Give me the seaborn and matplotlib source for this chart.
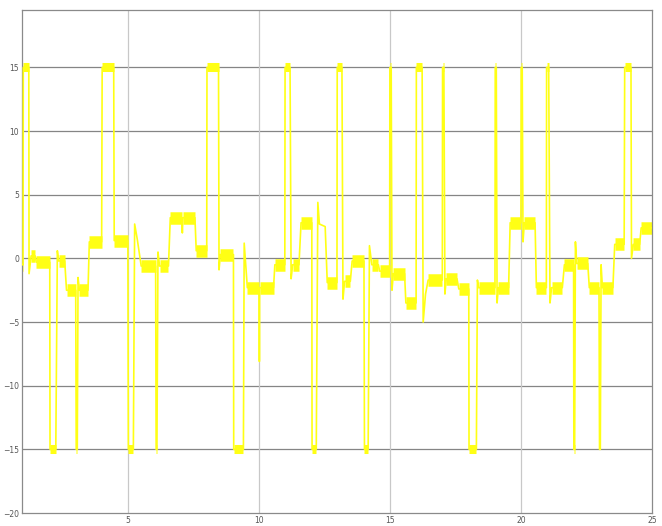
import numpy as np
import pandas as pd
import matplotlib
matplotlib.use("Agg")
import matplotlib.pyplot as plt
import seaborn as sns

# trace vertices (time, value)
t = [0.95, 0.99, 1.00, 1.21, 1.22, 1.30, 1.45, 1.50, 2.01,
     2.02, 2.24, 2.30, 2.35, 2.58, 2.65, 3.00,
     3.02, 3.06, 3.09, 3.14, 3.47, 3.52, 3.99,
     4.01, 4.45, 4.47, 4.99,
     5.01, 5.20, 5.25, 5.35, 5.50, 6.05,
     6.07, 6.10, 6.14, 6.20, 6.54, 6.61, 7.05, 7.07, 7.09, 7.55, 7.60, 8.00,
     8.01, 8.45, 8.47, 8.52, 9.02,
     9.03, 9.40, 9.43, 9.55, 10.00, 10.01, 10.02, 10.55, 10.60, 10.98,
     10.99, 11.18, 11.22, 11.28, 11.52, 11.60, 12.01,
     12.02, 12.18, 12.24, 12.30, 12.52, 12.60, 12.97,
     12.98, 13.16, 13.20, 13.26, 13.48, 13.55, 14.00,
     14.02, 14.16, 14.21, 14.30, 14.55, 14.60, 14.98,
     14.99, 15.04, 15.07, 15.12, 15.55, 15.60, 15.99,
     16.00, 16.22, 16.26, 16.35, 16.45, 16.99,
     17.00, 17.05, 17.09, 17.14, 17.55, 17.62, 18.00,
     18.01, 18.29, 18.33, 18.38, 19.00,
     19.01, 19.05, 19.08, 19.13, 19.52, 19.58, 19.99,
     20.00, 20.04, 20.07, 20.12, 20.53, 20.58, 20.96,
     20.97, 21.05, 21.10, 21.16, 21.57, 21.65, 22.00,
     22.01, 22.04, 22.07, 22.12, 22.54, 22.60, 22.97,
     22.99, 23.02, 23.05, 23.10, 23.50, 23.57, 23.93,
     23.95, 24.19, 24.21, 24.28, 24.52, 24.58, 25.00]
v = [-0.5, -0.5, 15, 15, -1.2, 0.2, 0.2, -0.3, -0.3,
     -15, -15, 0.6, -0.2, -0.2, -2.5, -2.5,
     -15, -15, -1.5, -2.5, -2.5, 1.3, 1.3,
     15, 15, 1.4, 1.4,
     -15, -15, 2.7, 1.5, -0.6, -0.6,
     -15, -15, 0.5, -0.6, -0.6, 3.2, 3.2, 2.0, 3.2, 3.2, 0.6, 0.6,
     15, 15, -0.9, 0.3, 0.3,
     -15, -15, 1.2, -2.3, -2.3, -8.1, -2.3, -2.3, -0.5, -0.5,
     15, 15, -1.6, -0.5, -0.5, 2.8, 2.8,
     -15, -15, 4.4, 2.7, 2.5, -1.9, -1.9,
     15, 15, -3.2, -1.8, -1.8, -0.2, -0.2,
     -15, -15, 1.0, -0.5, -0.5, -1.0, -1.0,
     15, 15, -2.5, -1.2, -1.2, -3.5, -3.5,
     15, 15, -5.0, -2.8, -1.7, -1.7,
     15, 15, -2.8, -1.6, -1.6, -2.4, -2.4,
     -15, -15, -1.7, -2.3, -2.3,
     15, 15, -3.5, -2.3, -2.3, 2.8, 2.8,
     15, 15, 1.3, 2.8, 2.8, -2.3, -2.3,
     15, 15, -3.5, -2.3, -2.3, -0.5, -0.5,
     -15, -15, 1.3, -0.4, -0.4, -2.3, -2.3,
     -15, -15, -0.5, -2.3, -2.3, 1.1, 1.1,
     15, 15, 0.0, 1.1, 1.1, 2.4, 2.4]

x_ticks = [5, 10, 15, 20, 25]
y_ticks = [-20, -15, -10, -5, 0, 5, 10, 15]

YELLOW = "#ffff14"

sns.set_style("white")
fig = plt.figure(figsize=(6.62, 5.26), dpi=100)
ax = fig.add_axes([0.0332, 0.0247, 0.952, 0.956])

df = pd.DataFrame({"t": t, "v": v})

# grid lines: dark horizontals, light verticals
for yy in y_ticks[1:]:
    ax.axhline(yy, color="#858585", lw=0.9, zorder=1)
for xx in x_ticks[:-1]:
    ax.axvline(xx, color="#c8c8c8", lw=0.9, zorder=1)

# noisy plateaus -> thick band where the level holds
for i in range(len(t) - 1):
    if v[i] == v[i + 1]:
        band = 6.5 if abs(v[i]) == 15 else 9
        ax.plot([t[i], t[i + 1]], [v[i], v[i + 1]], color=YELLOW, lw=band,
                solid_capstyle="butt", zorder=2)

sns.lineplot(data=df, x="t", y="v", sort=False, estimator=None,
             color=YELLOW, lw=1.2, ax=ax, zorder=3)

ax.set_xlim(0.95, 25)
ax.set_ylim(-20, 19.5)
ax.set_xticks(x_ticks)
ax.set_yticks(y_ticks)
ax.set_xlabel("")
ax.set_ylabel("")
ax.tick_params(direction="in", length=3, width=0.6, colors="#777777",
               labelsize=5.5, labelcolor="#555555", pad=2,
               top=True, right=True)
for s in ax.spines.values():
    s.set_color("#8a8a8a")
    s.set_linewidth(0.9)

fig.savefig("out.png", dpi=100)
